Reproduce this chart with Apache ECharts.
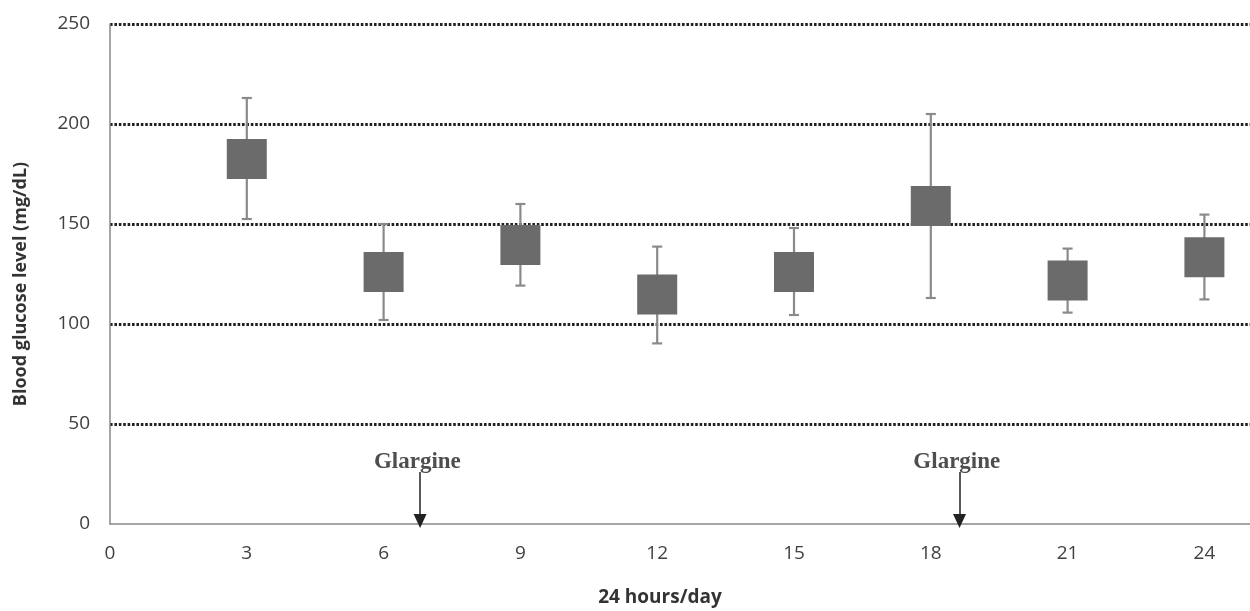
<!DOCTYPE html>
<html>
<head>
<meta charset="utf-8">
<script src="https://cdn.jsdelivr.net/npm/echarts@6/dist/echarts.min.js"></script>
<style>
  html, body { margin: 0; padding: 0; background: #fff; }
  #chart { width: 1250px; height: 611px; }
</style>
</head>
<body>
<div id="chart"></div>
<script>
// Hours of day and blood glucose readings (mg/dL)
const hours = [3, 6, 9, 12, 15, 18, 21, 24];
const meanValues = [182.5, 126, 139.5, 114.7, 126, 159, 121.7, 133.4];
const upperValues = [213, 150, 160, 138.7, 148, 205, 137.7, 154.7];
const lowerValues = [152.5, 102, 119.2, 90.3, 104.5, 113, 105.7, 112.3];

// Glargine injection markers
const glargineX = [6.8, 18.63];
const glargineLabel = 'Glargine';
const arrowTop = 26;
const arrowTip = 1.5;
const labelY = 31;

const yTicks = { min: 0, max: 250, interval: 50 };
const xTicks = { min: 0, max: 25, interval: 3 };

const chart = echarts.init(document.getElementById('chart'));

const meanData = hours.map((h, i) => [h, meanValues[i]]);
const errorData = hours.map((h, i) => [h, lowerValues[i], upperValues[i]]);

const labelFont = {
  fontFamily: 'Open Sans',
  fontSize: 19,
  color: '#404040',
};

const option = {
  animation: false,
  grid: { left: 110, right: 0, top: 24, bottom: 87, outerBoundsMode: 'none', containLabel: false },
  xAxis: {
    type: 'value',
    min: xTicks.min,
    max: xTicks.max,
    interval: xTicks.interval,
    name: '24 hours/day',
    nameLocation: 'middle',
    nameGap: 64,
    nameTextStyle: {
      fontFamily: 'Open Sans',
      fontWeight: 'bold',
      fontSize: 19,
      color: '#333',
      padding: [0, 40, 0, 0],
    },
    axisLine: { show: true, lineStyle: { color: '#888', width: 1.5 } },
    axisTick: { show: false },
    splitLine: { show: false },
    axisLabel: Object.assign({ margin: 20, showMaxLabel: false }, labelFont),
  },
  yAxis: {
    type: 'value',
    min: yTicks.min,
    max: yTicks.max,
    interval: yTicks.interval,
    name: 'Blood glucose level (mg/dL)',
    nameLocation: 'middle',
    nameGap: 80,
    nameTextStyle: {
      fontFamily: 'Open Sans',
      fontWeight: 'bold',
      fontSize: 18,
      color: '#333',
      padding: [0, 20, 0, 0],
    },
    axisLine: { show: true, lineStyle: { color: '#888', width: 1.5 } },
    axisTick: { show: false },
    axisLabel: Object.assign({ margin: 20 }, labelFont),
    splitLine: {
      show: true,
      showMinLine: false,
      lineStyle: { color: '#222', width: 3, type: [2.6, 1.8] },
    },
  },
  series: [
    {
      // error bars
      type: 'custom',
      data: errorData,
      z: 2,
      renderItem(params, api) {
        const x = api.value(0);
        const lo = api.coord([x, api.value(1)]);
        const hi = api.coord([x, api.value(2)]);
        const cap = 5;
        const style = { stroke: '#8a8a8a', lineWidth: 2.2 };
        return {
          type: 'group',
          children: [
            { type: 'line', shape: { x1: lo[0], y1: lo[1], x2: hi[0], y2: hi[1] }, style },
            { type: 'line', shape: { x1: hi[0] - cap, y1: hi[1], x2: hi[0] + cap, y2: hi[1] }, style },
            { type: 'line', shape: { x1: lo[0] - cap, y1: lo[1], x2: lo[0] + cap, y2: lo[1] }, style },
          ],
        };
      },
    },
    {
      type: 'scatter',
      data: meanData,
      symbol: 'rect',
      symbolSize: 40,
      z: 3,
      itemStyle: { color: '#6b6b6b', opacity: 1 },
    },
    {
      // glargine labels and arrows
      type: 'scatter',
      data: glargineX.map((x) => [x - 0.06, labelY]),
      symbolSize: 1,
      itemStyle: { color: 'rgba(0,0,0,0)' },
      label: {
        show: true,
        position: 'inside',
        formatter: glargineLabel,
        fontFamily: 'Liberation Serif',
        fontWeight: 'bold',
        fontSize: 23,
        color: '#222',
      },
      markLine: {
        silent: true,
        symbol: ['none', 'triangle'],
        symbolSize: [13, 14],
        label: { show: false },
        lineStyle: { color: '#222', width: 1.5, type: 'solid' },
        data: glargineX.map((x) => [
          { coord: [x, arrowTop] },
          { coord: [x, arrowTip] },
        ]),
      },
    },
  ],
};

chart.setOption(option);
</script>
</body>
</html>
